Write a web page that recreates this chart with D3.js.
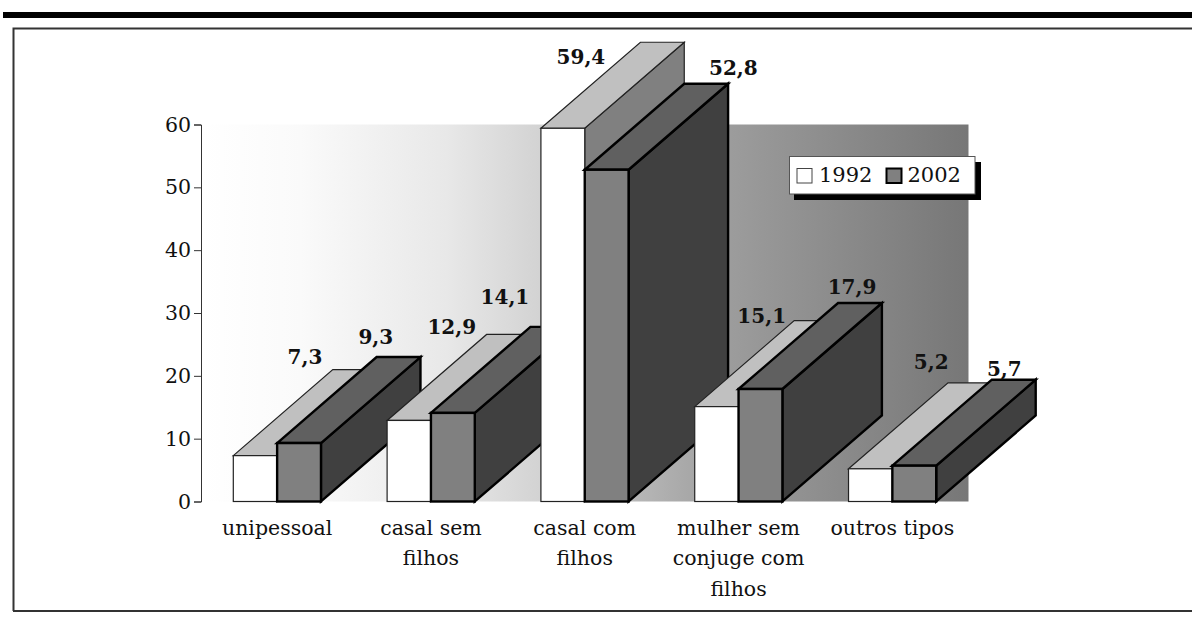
<!DOCTYPE html>
<html>
<head>
<meta charset="utf-8">
<script src="https://cdn.jsdelivr.net/npm/d3@7"></script>
<style>
  html, body { margin: 0; padding: 0; background: #fff; }
  svg { display: block; }
  text { font-family: "DejaVu Serif", serif; fill: #111; }
</style>
</head>
<body>
<svg id="chart" width="1192" height="619"></svg>
<script>
const CATEGORIES = ['unipessoal', 'casal sem|filhos', 'casal com|filhos', 'mulher sem|conjuge com|filhos', 'outros tipos'];
const YEARS = ['1992', '2002'];
const VALUES_1992 = [7.3, 12.9, 59.4, 15.1, 5.2];
const VALUES_2002 = [9.3, 14.1, 52.8, 17.9, 5.7];
const Y_TICKS = [0, 10, 20, 30, 40, 50, 60];

const svg = d3.select('#chart');
const m = { left: 201, right: 968.5, top: 124.5, bottom: 501.5 };
const DX = 99.5, DY = 86;   // oblique offset of the fake 3D depth

const x0 = d3.scaleBand().domain(CATEGORIES).range([m.left, m.right]).paddingInner(0.43).paddingOuter(0.21);
const x1 = d3.scaleBand().domain(YEARS).range([0, x0.bandwidth()]);
const y = d3.scaleLinear().domain([0, 60]).range([m.bottom, m.top]);

// page furniture
svg.append('rect').attr('x', 3).attr('y', 12).attr('width', 1189).attr('height', 6).attr('fill', '#000');
svg.append('path').attr('d', 'M13.5,611V28.5H1192').attr('fill', 'none').attr('stroke', '#333').attr('stroke-width', 2);
svg.append('line').attr('x1', 13).attr('x2', 1192).attr('y1', 611).attr('y2', 611).attr('stroke', '#333').attr('stroke-width', 2);

// plot background
const grad = svg.append('defs').append('linearGradient').attr('id', 'wall');
[[0, '#ffffff'], [0.13, '#fafafa'], [0.32, '#e8e8e8'], [0.44, '#d3d3d3'], [0.69, '#9c9c9c'], [1, '#777777']].forEach(([o, c]) => {
  grad.append('stop').attr('offset', o).attr('stop-color', c);
});
svg.append('rect').attr('x', m.left).attr('y', m.top).attr('width', m.right - m.left).attr('height', m.bottom - m.top)
  .attr('fill', 'url(#wall)');

// axes
svg.append('g').attr('transform', `translate(${m.left},0)`)
  .call(d3.axisLeft(y).tickValues(Y_TICKS).tickSize(7).tickPadding(3))
  .call(g => g.selectAll('path, line').attr('stroke', '#333').attr('stroke-width', 1))
  .call(g => g.selectAll('text').attr('fill', '#111').style('font-size', '20.5px').style('font-family', '"DejaVu Serif", serif'));

svg.append('g').attr('transform', `translate(0,${m.bottom})`)
  .call(d3.axisBottom(x0).tickSize(0).tickFormat(''))
  .call(g => g.select('.domain').remove())
  .call(g => g.selectAll('.tick').each(function (d) {
    const t = d3.select(this).select('text').attr('y', 0).attr('dy', null)
      .attr('fill', '#111').style('font-size', '20.5px').style('font-family', '"DejaVu Serif", serif');
    d.split('|').forEach((line, i) => {
      t.append('tspan').attr('x', 0).attr('y', 33.5 + i * 30.4).text(line);
    });
  }));

// bars, painted back to front so later groups hide earlier ones
const STYLES = {
  1992: { front: '#ffffff', top: '#c0c0c0', side: '#808080', stroke: '#222', sw: 1.2 },
  2002: { front: '#808080', top: '#606060', side: '#404040', stroke: '#000', sw: 2.4 }
};

function drawBar(cat, year, value) {
  const s = STYLES[year];
  const xa = x0(cat) + x1(year), xb = xa + x1.bandwidth();
  const yt = y(value), yb = y(0);
  const g = svg.append('g').attr('stroke', s.stroke).attr('stroke-width', s.sw).attr('stroke-linejoin', 'miter');
  g.append('path').attr('fill', s.side)
    .attr('d', `M${xb},${yt}L${xb + DX},${yt - DY}V${yb - DY}L${xb},${yb}Z`);
  g.append('path').attr('fill', s.top)
    .attr('d', `M${xa},${yt}L${xa + DX},${yt - DY}H${xb + DX}L${xb},${yt}Z`);
  g.append('rect').attr('fill', s.front)
    .attr('x', xa).attr('y', yt).attr('width', xb - xa).attr('height', yb - yt);
}

CATEGORIES.forEach((cat, i) => {
  drawBar(cat, '1992', VALUES_1992[i]);
  drawBar(cat, '2002', VALUES_2002[i]);
});

// value labels sit where they were dragged by hand, so each has its own nudge from the bar top
const NUDGE_1992 = [[71.7, -91.6], [64.7, -86.7], [40, -64.6], [67, -83.3], [82.7, -99.5]];
const NUDGE_2002 = [[98.7, -99], [74, -108.9], [148.6, -94.5], [113.5, -94.7], [112, -89.7]];
const fmt = v => v.toFixed(1).replace('.', ',');

CATEGORIES.forEach((cat, i) => {
  [[ '1992', VALUES_1992, NUDGE_1992 ], [ '2002', VALUES_2002, NUDGE_2002 ]].forEach(([yr, vals, nudge]) => {
    const base = x0(cat) + x1(yr);
    svg.append('text')
      .attr('x', base + nudge[i][0]).attr('y', y(vals[i]) + nudge[i][1])
      .attr('text-anchor', 'middle').attr('font-weight', 'bold').style('font-size', '20px')
      .attr('fill', '#000').text(fmt(vals[i]));
  });
});

// legend
const lg = svg.append('g');
lg.append('rect').attr('x', 794).attr('y', 162).attr('width', 187).attr('height', 38).attr('fill', '#000');
lg.append('rect').attr('x', 789.5).attr('y', 156.5).attr('width', 185.5).attr('height', 37.5).attr('fill', '#fff').attr('stroke', '#555');
lg.append('rect').attr('x', 797).attr('y', 168.5).attr('width', 15).attr('height', 14.5).attr('fill', '#fff').attr('stroke', '#444');
lg.append('rect').attr('x', 886.5).attr('y', 168.5).attr('width', 15).attr('height', 14.5).attr('fill', '#808080').attr('stroke', '#000').attr('stroke-width', 2);
lg.append('text').attr('x', 819).attr('y', 182).style('font-size', '21px').text(YEARS[0]);
lg.append('text').attr('x', 907.5).attr('y', 182).style('font-size', '21px').text(YEARS[1]);
</script>
</body>
</html>
